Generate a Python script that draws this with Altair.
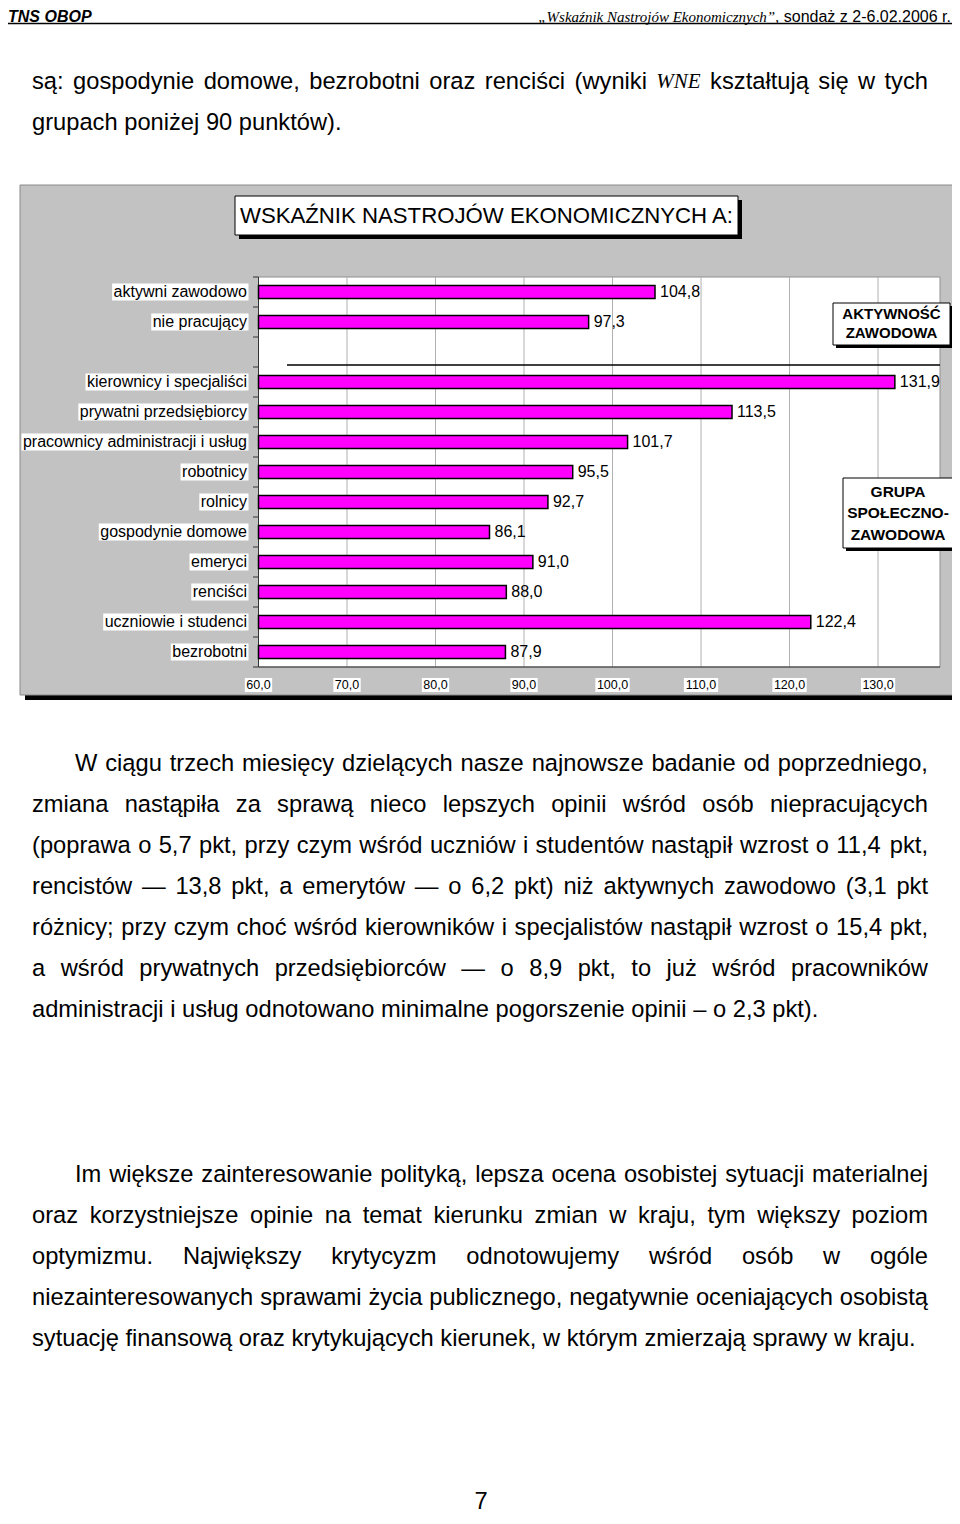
import altair as alt
import pandas as pd

# ---------------- data ----------------
top_groups = ["aktywni zawodowo", "nie pracujący"]
top_values = [104.8, 97.3]
soc_groups = ["kierownicy i specjaliści", "prywatni przedsiębiorcy",
              "pracownicy administracji i usług", "robotnicy", "rolnicy",
              "gospodynie domowe", "emeryci", "renciści",
              "uczniowie i studenci", "bezrobotni"]
soc_values = [131.9, 113.5, 101.7, 95.5, 92.7, 86.1, 91.0, 88.0, 122.4, 87.9]
x_ticks = [60, 70, 80, 90, 100, 110, 120, 130]
x_tick_labels = ["60,0", "70,0", "80,0", "90,0", "100,0", "110,0", "120,0", "130,0"]
chart_title = "WSKAŹNIK NASTROJÓW EKONOMICZNYCH A:"
box_top_lines = ["AKTYWNOŚĆ", "ZAWODOWA"]
box_soc_lines = ["GRUPA", "SPOŁECZNO-", "ZAWODOWA"]
header_left = "TNS OBOP"
header_quote = "„Wskaźnik Nastrojów Ekonomicznych”,"
header_date = "sondaż z 2-6.02.2006 r."
page_number = "7"

# (text, justified?)  -- "*" marks the italic serif word
para0 = [("są: gospodynie domowe, bezrobotni oraz renciści (wyniki *WNE kształtują się w tych", True),
         ("grupach poniżej 90 punktów).", False)]
para1 = [("W ciągu trzech miesięcy dzielących nasze najnowsze badanie od poprzedniego,", True),
         ("zmiana nastąpiła za sprawą nieco lepszych opinii wśród osób niepracujących", True),
         ("(poprawa o 5,7 pkt, przy czym wśród uczniów i studentów nastąpił wzrost o 11,4 pkt,", True),
         ("rencistów — 13,8 pkt, a emerytów — o 6,2 pkt) niż aktywnych zawodowo (3,1 pkt", True),
         ("różnicy; przy czym choć wśród kierowników i specjalistów nastąpił wzrost o 15,4 pkt,", True),
         ("a wśród prywatnych przedsiębiorców — o 8,9 pkt, to już wśród pracowników", True),
         ("administracji i usług odnotowano minimalne pogorszenie opinii – o 2,3 pkt).", False)]
para2 = [("Im większe zainteresowanie polityką, lepsza ocena osobistej sytuacji materialnej", True),
         ("oraz korzystniejsze opinie na temat kierunku zmian w kraju, tym większy poziom", True),
         ("optymizmu. Największy krytycyzm odnotowujemy wśród osób w ogóle", True),
         ("niezainteresowanych sprawami życia publicznego, negatywnie oceniających osobistą", True),
         ("sytuację finansową oraz krytykujących kierunek, w którym zmierzają sprawy w kraju.", False)]

# ---------------- layout ----------------
W, H = 944, 1508
SANS = "Liberation Sans"
SERIF = "Liberation Serif"
BODY_FS = 23.7
X_DOMAIN = [60, 137.0]
X_RANGE = [250.5, 932]
Y_RANGE = [269, 659]
PPU = (X_RANGE[1] - X_RANGE[0]) / (X_DOMAIN[1] - X_DOMAIN[0])

_upper = dict(zip("ABCDEFGHIJKLMNOPQRSTUVWXYZ",
                  [667, 667, 722, 722, 667, 611, 778, 722, 278, 500, 667, 556, 833,
                   722, 778, 667, 778, 722, 667, 611, 722, 667, 944, 667, 667, 611]))
_lower = dict(zip("abcdefghijklmnopqrstuvwxyz",
                  [556, 556, 500, 556, 556, 278, 556, 556, 222, 222, 500, 222, 833,
                   556, 556, 556, 556, 333, 500, 278, 556, 500, 722, 500, 500, 500]))
_punct = {" ": 278, "(": 333, ")": 333, ",": 278, "-": 333, ".": 278, ":": 278,
          ";": 278, "–": 556, "—": 1000, "„": 333, "”": 333}
_pl = dict(zip("ąćęłńóśźżĄĆĘŁŃÓŚŹŻ", "acelnoszzACELNOSZZ"))
TIMES_I = {"W": 833, "N": 667, "E": 611}


def tw(s, fs):
    t = 0
    for ch in s:
        ch = _pl.get(ch, ch)
        if ch.isdigit():
            t += 556
        else:
            t += _upper.get(ch, _lower.get(ch, _punct.get(ch, 556)))
    return t * fs / 1000.0


def ser_w(s, fs):
    return sum(TIMES_I.get(c, 600) for c in s) * fs / 1000.0


body_rows, ital_rows = [], []


def layout(lines, y0, first_x, left=24, right=920, lh=41):
    for i, (line, just) in enumerate(lines):
        y = y0 + i * lh
        x0 = first_x if i == 0 else left
        words = line.split(" ")
        ws = [ser_w(w[1:], 21) if w.startswith("*") else tw(w, BODY_FS) for w in words]
        if just and len(words) > 1:
            gap = (right - x0 - sum(ws)) / (len(words) - 1)
        else:
            gap = 278 * BODY_FS / 1000
        x = x0
        for w, wd in zip(words, ws):
            if w.startswith("*"):
                ital_rows.append((w[1:], x, y))
            else:
                body_rows.append((w, x, y))
            x += wd + gap


layout(para0, 74, 24)
layout(para1, 756, 67)
layout(para2, 1167, 67)

one = pd.DataFrame({"k": [0]})


def box(x0, y0, x1, y1, **kw):
    return alt.Chart(one).mark_rect(**kw).encode(
        x=alt.value(x0), x2=alt.value(x1), y=alt.value(y0), y2=alt.value(y1))


def hline(x0, x1, y, **kw):
    return alt.Chart(one).mark_rule(**kw).encode(
        x=alt.value(x0), x2=alt.value(x1), y=alt.value(y))


def vline(x, y0, y1, **kw):
    return alt.Chart(one).mark_rule(**kw).encode(
        x=alt.value(x), y=alt.value(y0), y2=alt.value(y1))


def texts(rows, **kw):
    df = pd.DataFrame(rows, columns=["tx", "px", "py"])
    return alt.Chart(df).mark_text(**kw).encode(
        x=alt.X("px:Q", scale=None, axis=None),
        y=alt.Y("py:Q", scale=None, axis=None),
        text="tx:N")


cats = top_groups + [" "] + soc_groups
xs = alt.Scale(domain=X_DOMAIN, range=X_RANGE)
ys = alt.Scale(domain=cats, range=Y_RANGE, paddingInner=0.57, paddingOuter=0.285)

bars_df = pd.DataFrame({
    "cat": top_groups + soc_groups,
    "v": top_values + soc_values,
})
bars_df["base"] = 60
bars_df["lab"] = [f"{v:.1f}".replace(".", ",") for v in bars_df["v"]]
bars_df["x0"] = [239 - tw(c, 16) - 1.5 for c in bars_df["cat"]]
bars_df["x1"] = 240.5

ticks_df = pd.DataFrame({"t": x_ticks, "lab": x_tick_labels})
ticks_df["a"] = [t - (tw(l, 12.5) / 2 + 1.5) / PPU for t, l in zip(x_ticks, x_tick_labels)]
ticks_df["b"] = [t + (tw(l, 12.5) / 2 + 1.5) / PPU for t, l in zip(x_ticks, x_tick_labels)]

Yc = alt.Y("cat:N", scale=ys, axis=None)

layers = []
# page header
layers.append(texts([(header_left, 0, 13.5)], font=SANS, fontSize=16, fontWeight="bold",
                    fontStyle="italic", align="left", baseline="alphabetic"))
date_w = tw(header_date, 16)
layers.append(texts([(header_date, W - 1, 13.5)], font=SANS, fontSize=16, align="right",
                    baseline="alphabetic"))
layers.append(texts([(header_quote, W - 1 - date_w - 4, 13.5)], font=SERIF, fontSize=15,
                    fontStyle="italic", align="right", baseline="alphabetic"))
layers.append(hline(0, W, 15.5, color="black", strokeWidth=1.5))

# chart panel
layers.append(box(17, 182, 950, 692, fill="black"))
layers.append(box(12, 177, 945, 687, fill="#C2C2C2", stroke="#8A8A8A", strokeWidth=1))
layers.append(box(X_RANGE[0], Y_RANGE[0], X_RANGE[1], Y_RANGE[1], fill="white",
                  stroke="#909090", strokeWidth=1))
layers.append(alt.Chart(ticks_df[ticks_df.t > 60]).mark_rule(color="#B0B0B0", strokeWidth=1).encode(
    x=alt.X("t:Q", scale=xs, axis=None), y=alt.value(Y_RANGE[0]), y2=alt.value(Y_RANGE[1])))
# axes
layers.append(vline(X_RANGE[0], Y_RANGE[0], Y_RANGE[1], color="#333333", strokeWidth=1))
layers.append(hline(X_RANGE[0], X_RANGE[1], Y_RANGE[1], color="#333333", strokeWidth=1))
tick_y = pd.DataFrame({"ty": [Y_RANGE[0] + 30 * k for k in range(14)]})
layers.append(alt.Chart(tick_y).mark_rule(color="#333333", strokeWidth=1).encode(
    y=alt.Y("ty:Q", scale=None, axis=None), x=alt.value(245), x2=alt.value(X_RANGE[0])))
# separator line
layers.append(hline(279, X_RANGE[1], 357, color="black", strokeWidth=1.5))

# category labels with white boxes
layers.append(alt.Chart(bars_df).mark_bar(height=17, color="white").encode(
    y=Yc, x=alt.X("x0:Q", scale=None, axis=None), x2="x1:Q"))
layers.append(alt.Chart(bars_df).mark_text(align="right", baseline="middle", font=SANS,
                                           fontSize=16, color="black").encode(
    y=Yc, x=alt.value(239), text="cat:N"))

# bars + value labels
layers.append(alt.Chart(bars_df).mark_bar(color="#FF00FF", stroke="black", strokeWidth=1.5).encode(
    y=Yc, x=alt.X("v:Q", scale=xs, axis=None), x2="base:Q"))
layers.append(alt.Chart(bars_df).mark_text(align="left", baseline="middle", dx=5, font=SANS,
                                           fontSize=16, color="black").encode(
    y=Yc, x=alt.X("v:Q", scale=xs, axis=None), text="lab:N"))

# x tick labels with white boxes
layers.append(alt.Chart(ticks_df).mark_rect(color="white").encode(
    x=alt.X("a:Q", scale=xs, axis=None), x2="b:Q", y=alt.value(670), y2=alt.value(684)))
layers.append(alt.Chart(ticks_df).mark_text(align="center", baseline="middle", font=SANS,
                                            fontSize=12.5, color="black").encode(
    x=alt.X("t:Q", scale=xs, axis=None), y=alt.value(677), text="lab:N"))

# title box
layers.append(box(231, 192, 734, 231, fill="black"))
layers.append(box(227, 188, 730, 227, fill="white", stroke="black", strokeWidth=1))
layers.append(texts([(chart_title, 478.5, 207.5)], font=SANS, fontSize=22.2, align="center",
                    baseline="middle", color="black"))

# AKTYWNOŚĆ ZAWODOWA box
layers.append(box(828, 298, 945, 340, fill="black"))
layers.append(box(825, 295, 942, 337, fill="white", stroke="black", strokeWidth=1))
layers.append(texts([(box_top_lines[0], 883.5, 306), (box_top_lines[1], 883.5, 325)],
                    font=SANS, fontSize=15, fontWeight="bold", align="center",
                    baseline="middle", color="black"))

# GRUPA SPOŁECZNO-ZAWODOWA box
layers.append(box(838, 473, 948, 543, fill="black"))
layers.append(box(835, 470, 945, 540, fill="white", stroke="black", strokeWidth=1))
layers.append(texts([(box_soc_lines[0], 890, 484), (box_soc_lines[1], 890, 505),
                     (box_soc_lines[2], 890, 527)],
                    font=SANS, fontSize=15.5, fontWeight="bold", align="center",
                    baseline="middle", color="black"))

# body text
layers.append(texts(body_rows, font=SANS, fontSize=BODY_FS, align="left",
                    baseline="middle", color="black"))
layers.append(texts(ital_rows, font=SERIF, fontSize=21, fontStyle="italic", align="left",
                    baseline="middle", color="black"))
layers.append(texts([(page_number, 473, 1494)], font=SANS, fontSize=BODY_FS, align="center",
                    baseline="middle", color="black"))

chart = alt.layer(*layers).resolve_scale(x="independent", y="independent").properties(
    width=W, height=H, padding=0, autosize=alt.AutoSizeParams(type="none"),
    background="white").configure_view(strokeWidth=0)

chart.save("out.html", embed_options={"renderer": "svg", "actions": False})
